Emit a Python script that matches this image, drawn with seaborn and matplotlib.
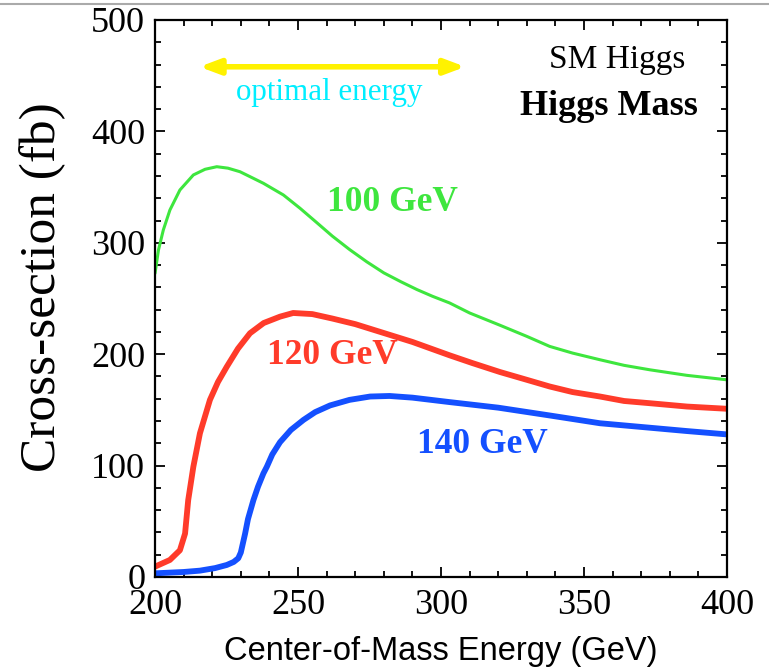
import numpy as np
import pandas as pd
import matplotlib
matplotlib.use("Agg")
import matplotlib.pyplot as plt
from matplotlib.ticker import MultipleLocator
import seaborn as sns

# ---- data ----
e_100 = [200, 201.2, 202.9, 205.2, 208.7, 213.4, 217.5, 221.6, 225.5, 229.7,
         233.5, 237.9, 244.9, 250.7, 256.6, 262, 268, 274, 280, 286, 291.6,
         297, 303, 310, 320.6, 330, 338, 346, 355.6, 364, 373, 386, 400]
xs_100 = [272.6, 293.5, 311.5, 329.4, 347.4, 360.9, 366, 368.3, 367, 363.8,
          359, 353.4, 342.9, 331, 318, 306, 294, 283, 273, 265, 258,
          252, 246, 237, 226, 216, 207, 201, 195, 190, 186, 181, 177]

e_120 = [200, 205.2, 208.7, 210.5, 211.6, 213.4, 215.7, 219.2, 222, 225.1, 229,
         233.2, 238, 243.7, 248.3, 255, 262, 270, 280, 290, 303, 311, 320.6,
         330, 338, 346, 355.6, 364, 373, 386, 400]
xs_120 = [9.3, 15.3, 24, 39, 69, 99, 129, 159, 175, 188.8, 205,
          218.8, 228, 233.7, 237, 236, 232, 227, 219, 211, 199, 192, 184,
          177, 171, 166, 162, 158, 156, 153, 151]

e_140 = [200, 210, 215.7, 221, 225.1, 227.5, 229.1, 230, 231.5, 232.5, 234.4,
         236, 237.9, 239.1, 241, 243.7, 247.5, 251.9, 256, 261.2, 268, 275.2,
         282, 290, 303, 320, 338, 355.6, 373, 386, 400]
xs_140 = [3.3, 4.5, 5.7, 8, 10.8, 13.5, 16.8, 22, 39, 52, 69,
          81, 93, 99, 110, 121, 132, 141, 148, 154, 159, 162,
          162.5, 161, 157, 152, 145, 138, 134, 131, 128]

x_ticks = [200, 250, 300, 350, 400]
y_ticks = [0, 100, 200, 300, 400, 500]

sns.set_style("ticks")
plt.rcParams["font.family"] = ["Liberation Serif", "DejaVu Serif"]
plt.rcParams["text.color"] = "black"
plt.rcParams["axes.labelcolor"] = "black"
plt.rcParams["xtick.color"] = "black"
plt.rcParams["ytick.color"] = "black"

fig = plt.figure(figsize=(7.69, 6.71), dpi=100)
ax = fig.add_axes([0.2016, 0.1401, 0.7438, 0.8301])

line_kw = dict(solid_joinstyle="round", solid_capstyle="round")
sns.lineplot(x=e_100, y=xs_100, ax=ax, color="#3ee63e", lw=2.2, **line_kw)
sns.lineplot(x=e_120, y=xs_120, ax=ax, color="#ff3b2a", lw=4.2, **line_kw)
sns.lineplot(x=e_140, y=xs_140, ax=ax, color="#1450ff", lw=4.2, **line_kw)

ax.set_xlim(200, 400)
ax.set_ylim(0, 500)
ax.set_xticks(x_ticks)
ax.set_yticks(y_ticks)
ax.set_xticklabels([str(v) for v in x_ticks])
ax.set_yticklabels([str(v) for v in y_ticks])
ax.xaxis.set_minor_locator(MultipleLocator(10))
ax.yaxis.set_minor_locator(MultipleLocator(20))
ax.tick_params(which="both", direction="in", top=True, right=True,
               color="black", labelcolor="black", width=1.3)
ax.tick_params(which="major", length=7, labelsize=26)
ax.tick_params(axis="x", which="major", pad=9)
ax.tick_params(axis="y", which="major", pad=7)
ax.tick_params(which="minor", length=4)
for s in ax.spines.values():
    s.set_visible(True)
    s.set_linewidth(1.6)
    s.set_color("black")

ax.set_ylabel("Cross-section (fb)", fontsize=37, color="black")
ax.yaxis.set_label_coords(-0.155, 0.52)
ax.set_xlabel("Center-of-Mass Energy (GeV)", fontsize=23.5, color="black",
              family=["Liberation Sans", "DejaVu Sans"], labelpad=10)

# annotations
ax.annotate("", xy=(215.5, 458), xytext=(308.5, 458),
            arrowprops=dict(arrowstyle="<|-|>,head_length=1.2,head_width=0.45",
                            color="#fff200", lw=4, shrinkA=0, shrinkB=0))
ax.text(261, 435, "optimal energy", color="#00eeff", fontsize=22.3,
        ha="center", va="center")
ax.text(361.5, 464, "SM Higgs", color="black", fontsize=24,
        ha="center", va="center")
ax.text(358.7, 422, "Higgs Mass", color="black", fontsize=26,
        fontweight="bold", ha="center", va="center")
ax.text(282.9, 336, "100 GeV", color="#3ee63e", fontsize=25.5,
        fontweight="bold", ha="center", va="center")
ax.text(261.9, 199, "120 GeV", color="#ff3b2a", fontsize=25.5,
        fontweight="bold", ha="center", va="center")
ax.text(314.3, 118.5, "140 GeV", color="#1450ff", fontsize=25.5,
        fontweight="bold", ha="center", va="center")

fig.add_artist(plt.Line2D([0, 1], [1 - 4 / 671, 1 - 4 / 671],
                          transform=fig.transFigure, color="#aaaaaa", lw=1.5))

fig.savefig("out.png", dpi=100)
